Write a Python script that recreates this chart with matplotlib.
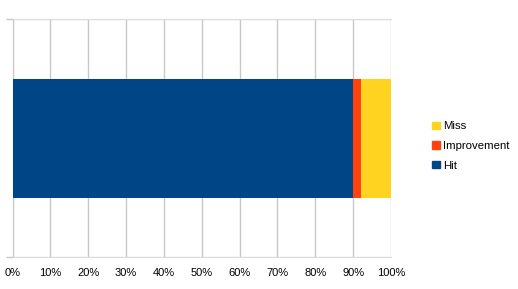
import matplotlib
matplotlib.use("Agg")
import matplotlib.pyplot as plt
from matplotlib.patches import Patch

series = ["Hit", "Improvement", "Miss"]
values = [90, 2, 8]
colors = ["#004586", "#ff420e", "#ffd320"]
xticks = list(range(0, 101, 10))

plt.rcParams["font.family"] = ["Liberation Sans", "DejaVu Sans"]
plt.rcParams["font.size"] = 8

fig = plt.figure(figsize=(5.18, 2.89), dpi=100)
ax = fig.add_axes([12.5 / 518, 32 / 289, (391 - 12.5) / 518, 238 / 289])

left = 0
for name, v, c in zip(series, values, colors):
    ax.barh(1, v, left=left, height=0.5, color=c, label=name, zorder=3)
    left += v

ax.set_xlim(0, 100)
ax.set_ylim(0.5, 1.5)
ax.set_xticks(xticks)
ax.set_xticklabels([f"{t}%" for t in xticks])
ax.set_yticks([0.5, 1.5])
ax.set_yticklabels([])
ax.tick_params(axis="x", length=0, pad=8, colors="#000000")
ax.tick_params(axis="y", length=5, color="#c8c8c8", width=1)
ax.grid(axis="x", color="#c8c8c8", linewidth=1, zorder=0)
ax.grid(axis="y", color="#dcdcdc", linewidth=1, zorder=0)
for s in ["top", "bottom"]:
    ax.spines[s].set_color("#dcdcdc")
ax.spines["left"].set_color("#c8c8c8")
ax.spines["right"].set_visible(False)

handles = [Patch(color=c, label=n) for n, c in zip(series, colors)][::-1]
fig.legend(handles=handles, loc="center left", bbox_to_anchor=(422 / 518, 1 - 146 / 289),
           frameon=False, handlelength=0.65, handleheight=0.65, handletextpad=0.3,
           labelspacing=0.85, fontsize=8.2)

fig.savefig("out.png", dpi=100)
